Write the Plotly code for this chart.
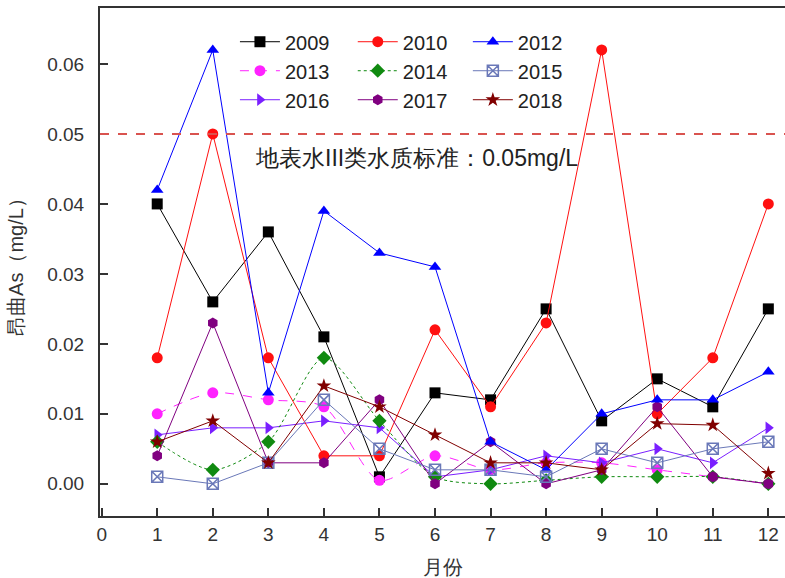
import plotly.graph_objects as go

months = list(range(1, 13))

as_2009 = [0.040, 0.026, 0.036, 0.021, 0.001, 0.013, 0.012, 0.025, 0.009, 0.015, 0.011, 0.025]
as_2010 = [0.018, 0.050, 0.018, 0.004, 0.004, 0.022, 0.011, 0.023, 0.062, 0.010, 0.018, 0.040]
as_2012 = [0.042, 0.062, 0.013, 0.039, 0.033, 0.031, 0.006, 0.002, 0.010, 0.012, 0.012, 0.016]
as_2013 = [0.010, 0.013, 0.012, 0.011, 0.0005, 0.004, 0.002, 0.003, 0.003, 0.002, 0.001, 0.000]
as_2014 = [0.006, 0.002, 0.006, 0.018, 0.009, 0.001, 0.000, 0.0005, 0.001, 0.001, 0.001, 0.000]
as_2015 = [0.001, 0.000, 0.003, 0.012, 0.005, 0.002, 0.002, 0.001, 0.005, 0.003, 0.005, 0.006]
as_2016 = [0.007, 0.008, 0.008, 0.009, 0.008, 0.001, 0.002, 0.004, 0.003, 0.005, 0.003, 0.008]
as_2017 = [0.004, 0.023, 0.003, 0.003, 0.012, 0.000, 0.006, 0.000, 0.002, 0.011, 0.001, 0.000]
as_2018 = [0.006, 0.009, 0.003, 0.014, 0.011, 0.007, 0.003, 0.003, 0.002, 0.0086, 0.0084, 0.0015]

standard_value = 0.05
standard_text = "地表水III类水质标准：0.05mg/L"

# (name, values, colour, marker symbol, dash, shape, legend column)
series = [
    ("2009", as_2009, "#000000", "square", "solid", "linear", "legend"),
    ("2013", as_2013, "#ff22ff", "circle", "dash", "spline", "legend"),
    ("2016", as_2016, "#7a1fff", "triangle-right", "solid", "linear", "legend"),
    ("2010", as_2010, "#ff1010", "circle", "solid", "linear", "legend2"),
    ("2014", as_2014, "#108a10", "diamond", "dot", "spline", "legend2"),
    ("2017", as_2017, "#800080", "hexagon", "solid", "linear", "legend2"),
    ("2012", as_2012, "#0000ff", "triangle-up", "solid", "linear", "legend3"),
    ("2015", as_2015, "#6a78b8", "square-x-open", "solid", "linear", "legend3"),
    ("2018", as_2018, "#800000", "star", "solid", "linear", "legend3"),
]

fig = go.Figure()
for name, vals, col, sym, dash, shape, leg in series:
    fig.add_trace(go.Scatter(
        x=months, y=vals, name=name, mode="lines+markers",
        line=dict(color=col, width=1, dash=dash, shape=shape, smoothing=0.8),
        marker=dict(symbol=sym, size=11, color=col,
                    line=dict(color=col, width=1.5 if sym.endswith("open") else 0)),
        legend=leg,
    ))

# Class III surface water standard
fig.add_shape(type="line", xref="paper", yref="y", x0=0, x1=1,
              y0=standard_value, y1=standard_value,
              line=dict(color="#d9534f", width=2, dash="dash"))
fig.add_annotation(x=2.72, y=0.0466, xref="x", yref="y", text=standard_text,
                   showarrow=False, xanchor="left", yanchor="middle",
                   font=dict(size=23, color="#222222"))

base_font = "Arial, Liberation Sans, sans-serif"
legend_common = dict(bgcolor="rgba(0,0,0,0)",
                     font=dict(size=20, color="#222222", family=base_font),
                     xanchor="left", yanchor="top", y=0.972, itemwidth=40,
                     tracegroupgap=0)
fig.update_layout(
    width=785, height=578,
    margin=dict(l=100, r=0, t=8, b=62),
    paper_bgcolor="white", plot_bgcolor="white",
    font=dict(family=base_font, color="#333333"),
    legend=dict(x=0.197, **legend_common),
    legend2=dict(x=0.369, **legend_common),
    legend3=dict(x=0.537, **legend_common),
    xaxis=dict(range=[-0.03, 12.3], tickmode="array", tickvals=list(range(0, 13)),
               ticks="inside", ticklen=8, tickwidth=1.5, tickcolor="#333333",
               showline=True, linecolor="#333333", linewidth=2, mirror=True,
               showgrid=False, zeroline=False, ticklabelstandoff=0,
               tickfont=dict(size=19, color="#333333"),
               title=dict(text="月份", font=dict(size=20, color="#333333"), standoff=16)),
    yaxis=dict(range=[-0.0046, 0.068], tickvals=[0, 0.01, 0.02, 0.03, 0.04, 0.05, 0.06],
               tickformat=".2f", ticks="inside", ticklen=8, tickwidth=1.5,
               tickcolor="#333333", showline=True, linecolor="#333333", linewidth=2,
               showgrid=False, zeroline=False, ticklabelstandoff=10,
               tickfont=dict(size=19, color="#333333"),
               title=dict(text="昂曲As（mg/L）", font=dict(size=20, color="#333333"),
                          standoff=18)),
)

fig.write_html("out.html")
